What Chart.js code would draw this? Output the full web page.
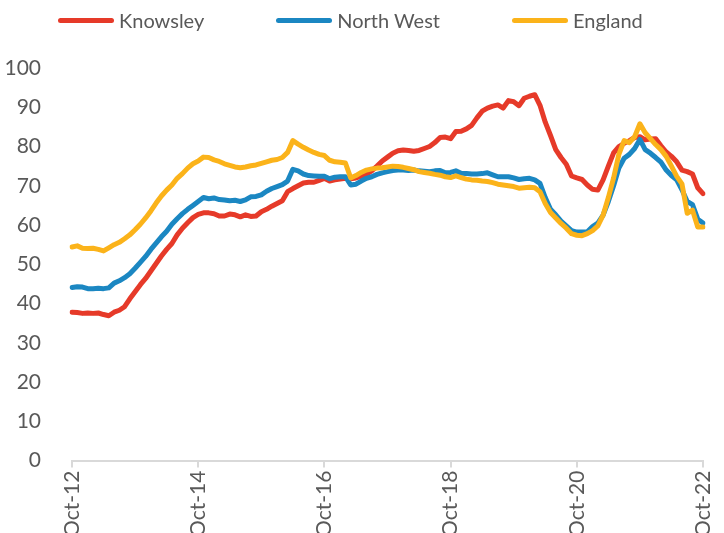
<!DOCTYPE html>
<html>
<head>
<meta charset="utf-8">
<script src="https://cdn.jsdelivr.net/npm/chart.js@4.4.0/dist/chart.umd.min.js"></script>
<style>
  html, body { margin: 0; padding: 0; background: #fff; overflow: hidden; }
  #wrap { position: relative; width: 724px; height: 540px; }
  #legend { position: absolute; top: 8px; left: 58px; display: flex; font-family: Lato, sans-serif; font-size: 20px; color: #595959; }
  .item { display: flex; align-items: center; margin-right: 72px; }
  .swatch { width: 56px; height: 5px; border-radius: 3px; margin-right: 5px; }
</style>
</head>
<body>
<div id="wrap">
  <div id="legend"></div>
  <canvas id="myChart"></canvas>
</div>
<script>
// monthly, Oct-12 .. Oct-22
var monthNames = ["Jan","Feb","Mar","Apr","May","Jun","Jul","Aug","Sep","Oct","Nov","Dec"];
var startYear = 12, startMonth = 9, nMonths = 121;

var knowsley = [
  37.8,37.7,37.5,37.6,37.5,37.6,37.2,36.9,37.8,38.3,39.2,41.2,43.0,44.8,46.4,48.3,50.2,52.1,53.8,55.3,
  57.5,59.2,60.6,61.9,62.7,63.1,63.1,62.9,62.3,62.3,62.8,62.6,62.1,62.6,62.2,62.3,63.4,64.0,64.8,65.5,
  66.2,68.5,69.3,70.0,70.7,70.9,70.9,71.4,71.9,71.2,71.5,71.7,71.9,71.8,72.0,72.4,73.0,73.8,75.0,76.3,
  77.3,78.3,78.9,79.1,79.0,78.8,79.0,79.5,80.0,81.0,82.3,82.4,82.0,83.8,83.9,84.5,85.4,87.3,89.0,89.8,
  90.3,90.6,89.8,91.7,91.4,90.4,92.3,92.8,93.2,90.5,86.2,82.8,79.2,77.2,75.5,72.5,72.0,71.6,70.2,69.1,
  68.9,71.5,75.0,78.4,80.0,80.8,81.5,82.3,82.5,81.7,81.9,82.0,80.2,78.6,77.5,76.1,74.0,73.6,73.0,69.5,
  68.0
];
var northWest = [
  44.1,44.3,44.2,43.8,43.8,43.9,43.8,44.0,45.2,45.8,46.6,47.6,49.0,50.5,52.0,53.8,55.4,57.0,58.4,60.2,
  61.6,62.9,64.0,65.0,66.0,67.0,66.7,66.9,66.5,66.4,66.2,66.3,66.0,66.4,67.2,67.3,67.7,68.6,69.3,69.8,
  70.3,71.2,74.2,73.8,73.0,72.6,72.5,72.4,72.4,71.8,72.2,72.3,72.3,70.2,70.4,71.2,71.9,72.3,72.9,73.3,
  73.6,73.9,74.0,74.0,73.9,74.0,73.8,73.7,73.6,73.8,73.9,73.3,73.4,73.8,73.2,73.1,73.0,73.0,73.1,73.3,
  72.8,72.3,72.3,72.3,72.0,71.6,71.8,71.9,71.5,70.6,67.0,64.0,62.6,61.0,59.8,58.6,58.2,58.2,58.3,59.6,
  60.5,62.5,66.0,70.0,74.5,77.0,78.0,79.5,81.8,79.2,78.3,77.2,76.0,74.0,72.6,71.5,69.0,66.0,65.2,61.5,
  60.5
];
var england = [
  54.4,54.7,54.1,54.0,54.1,53.8,53.4,54.2,55.0,55.6,56.5,57.5,58.8,60.2,61.8,63.6,65.6,67.4,68.9,70.2,
  71.9,73.1,74.5,75.6,76.3,77.3,77.2,76.6,76.2,75.6,75.2,74.8,74.6,74.8,75.1,75.3,75.7,76.1,76.5,76.7,
  77.2,78.5,81.5,80.6,79.8,79.1,78.5,78.0,77.7,76.5,76.1,76.0,75.8,72.0,72.6,73.4,74.0,74.3,74.5,74.6,
  74.8,75.0,74.9,74.7,74.4,74.1,73.6,73.4,73.2,72.9,72.7,72.3,72.1,72.5,72.1,71.7,71.5,71.4,71.2,71.1,
  70.8,70.4,70.2,70.0,69.8,69.4,69.5,69.6,69.5,68.5,65.5,63.2,61.8,60.4,59.2,57.8,57.4,57.3,57.8,58.6,
  59.8,62.5,67.0,72.0,78.0,81.5,81.0,82.5,85.8,83.5,82.0,80.5,79.2,77.5,75.0,72.4,70.5,63.0,63.8,59.5,
  59.5
];

var seriesNames  = ["Knowsley", "North West", "England"];
var seriesColors = ["#e63a29", "#1b87c2", "#fbb31a"];
var yTicks = [0, 10, 20, 30, 40, 50, 60, 70, 80, 90, 100];

var labels = [];
for (var i = 0; i < nMonths; i++) {
  var m = (startMonth + i) % 12;
  var y = startYear + Math.floor((startMonth + i) / 12);
  labels.push(monthNames[m] + "-" + y);
}

// html legend
var leg = document.getElementById("legend");
seriesNames.forEach(function (name, k) {
  var it = document.createElement("div");
  it.className = "item";
  var sw = document.createElement("span");
  sw.className = "swatch";
  sw.style.background = seriesColors[k];
  var tx = document.createElement("span");
  tx.textContent = name;
  it.appendChild(sw);
  it.appendChild(tx);
  leg.appendChild(it);
});

var allData = [knowsley, northWest, england];
var sets = allData.map(function (d, k) {
  return {
    label: seriesNames[k],
    data: d,
    borderColor: seriesColors[k],
    backgroundColor: seriesColors[k],
    borderWidth: 5,
    pointRadius: 0,
    tension: 0,
    borderJoinStyle: "round",
    borderCapStyle: "round",
    order: 3 - k
  };
});

new Chart("myChart", {
  type: "line",
  data: { labels: labels, datasets: sets },
  options: {
    responsive: true,
    maintainAspectRatio: false,
    animation: false,
    layout: { padding: { top: 68, left: 0, right: 21, bottom: 0 } },
    plugins: { legend: { display: false }, tooltip: { enabled: false } },
    scales: {
      x: {
        offset: false,
        afterBuildTicks: function (s) {
          s.ticks = s.ticks.filter(function (t) { return t.value % 24 === 0; });
        },
        afterFit: function (s) { s.paddingLeft = 0; s.paddingRight = 0; },
        grid: { drawOnChartArea: false, color: "#d9d9d9", lineWidth: 2, tickLength: 7 },
        border: { color: "#d9d9d9", width: 2 },
        ticks: {
          autoSkip: false, minRotation: 90, maxRotation: 90, padding: 3,
          color: "#595959", font: { family: "Lato", size: 21 }
        }
      },
      y: {
        min: 0, max: 100,
        afterBuildTicks: function (s) {
          s.ticks = yTicks.map(function (v) { return { value: v }; });
        },
        afterFit: function (s) { s.width = 72; },
        grid: { display: false },
        border: { display: false },
        ticks: { padding: 23, color: "#595959", font: { family: "Lato", size: 21 } }
      }
    }
  }
});
</script>
</body>
</html>
